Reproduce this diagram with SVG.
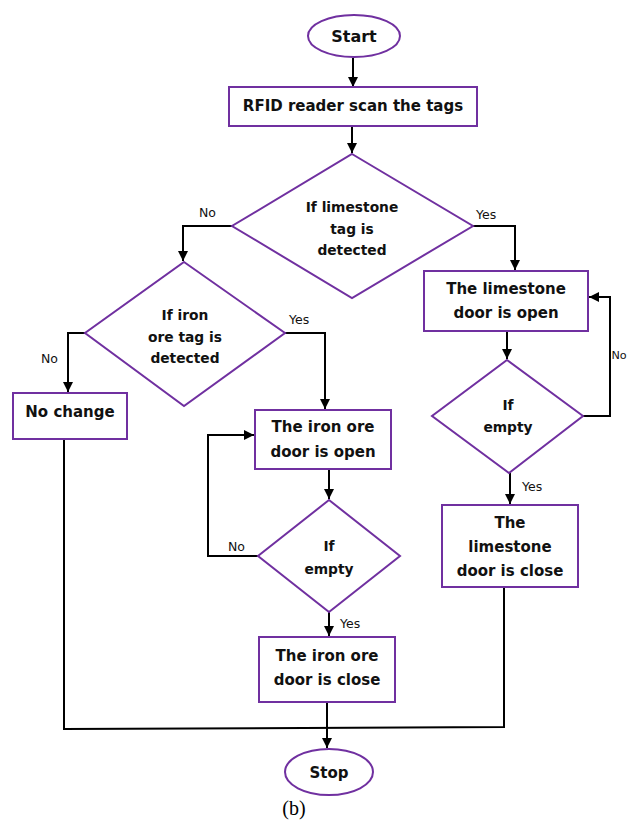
<svg xmlns="http://www.w3.org/2000/svg" width="627" height="825" viewBox="0 0 627 825">
<style>
.s{fill:#fff;stroke:#7030A0;stroke-width:2}
.c{fill:none;stroke:#000;stroke-width:2}
.t{font-family:"DejaVu Sans",Verdana,sans-serif;font-weight:bold;font-size:15px;fill:#111;text-anchor:middle}
.d{font-family:"DejaVu Sans",Verdana,sans-serif;font-weight:bold;font-size:13.8px;fill:#111;text-anchor:middle}
.l{font-family:"DejaVu Sans",Verdana,sans-serif;font-size:12.5px;fill:#111}
</style>
<defs>
<marker id="a" viewBox="0 0 10 10" refX="10" refY="5" markerWidth="5" markerHeight="5" orient="auto" markerUnits="strokeWidth"><path d="M0,0L10,5L0,10z" fill="#000"/></marker>
</defs>
<g id="connectors">
<path class="c" d="M353,58V87" marker-end="url(#a)"/>
<path class="c" d="M352,126V153" marker-end="url(#a)"/>
<path class="c" d="M232,226H183V261" marker-end="url(#a)"/>
<path class="c" d="M473,226H515V270" marker-end="url(#a)"/>
<path class="c" d="M85,333H68V392" marker-end="url(#a)"/>
<path class="c" d="M285,333H325V409" marker-end="url(#a)"/>
<path class="c" d="M329,469V499" marker-end="url(#a)"/>
<path class="c" d="M258,556H208V435H254" marker-end="url(#a)"/>
<path class="c" d="M329,612V636" marker-end="url(#a)"/>
<path class="c" d="M507,331V359" marker-end="url(#a)"/>
<path class="c" d="M583,416H610V297H589" marker-end="url(#a)"/>
<path class="c" d="M510,473V504" marker-end="url(#a)"/>
<path class="c" d="M64,439V729L504,727V587"/>
<path class="c" d="M327,702V748" marker-end="url(#a)"/>
</g>
<g id="labels">
<text class="l" x="199" y="217">No</text>
<text class="l" x="476" y="219">Yes</text>
<text class="l" x="41" y="363">No</text>
<text class="l" x="289" y="324">Yes</text>
<text class="l" x="228" y="551">No</text>
<text class="l" x="340" y="628">Yes</text>
<text class="l" x="611.5" y="359" style="font-size:11.2px">No</text>
<text class="l" x="522" y="491">Yes</text>
</g>
<g id="start"><ellipse class="s" cx="354" cy="36" rx="46" ry="21"/><text class="t" x="354" y="42" style="font-size:16px">Start</text></g>
<g id="rfid"><rect class="s" x="229" y="87" width="248" height="39"/><text class="t" x="353" y="111">RFID reader scan the tags</text></g>
<g id="dec-limestone"><polygon class="s" points="352,154 473,226 352,298 232,226"/><text class="d" x="352" y="212">If limestone</text><text class="d" x="352" y="234">tag is</text><text class="d" x="352" y="255">detected</text></g>
<g id="dec-iron"><polygon class="s" points="184,262 285,333 184,406 85,333"/><text class="d" x="185" y="320">If iron</text><text class="d" x="185" y="342">ore tag is</text><text class="d" x="185" y="363">detected</text></g>
<g id="no-change"><rect class="s" x="13" y="393" width="114" height="46"/><text class="t" x="70" y="417">No change</text></g>
<g id="iron-open"><rect class="s" x="255" y="410" width="136" height="59"/><text class="t" x="323" y="432">The iron ore</text><text class="t" x="323" y="457">door is open</text></g>
<g id="iron-empty"><polygon class="s" points="329,500 400,556 329,612 258,556"/><text class="d" x="329" y="551">If</text><text class="d" x="329" y="574">empty</text></g>
<g id="iron-close"><rect class="s" x="259" y="637" width="136" height="65"/><text class="t" x="327" y="661">The iron ore</text><text class="t" x="327" y="685">door is close</text></g>
<g id="lime-open"><rect class="s" x="424" y="271" width="164" height="60"/><text class="t" x="506" y="294">The limestone</text><text class="t" x="506" y="318">door is open</text></g>
<g id="lime-empty"><polygon class="s" points="507,360 583,416 509,473 432,416"/><text class="d" x="508" y="410">If</text><text class="d" x="508" y="432">empty</text></g>
<g id="lime-close"><rect class="s" x="442" y="505" width="136" height="82"/><text class="t" x="510" y="528">The</text><text class="t" x="510" y="552">limestone</text><text class="t" x="510" y="576">door is close</text></g>
<g id="stop"><ellipse class="s" cx="329" cy="772" rx="44" ry="23"/><text class="t" x="329" y="778">Stop</text></g>
<text x="294" y="815" style="font-family:'Liberation Serif',serif;font-size:20px;fill:#000;text-anchor:middle">(b)</text>
</svg>
